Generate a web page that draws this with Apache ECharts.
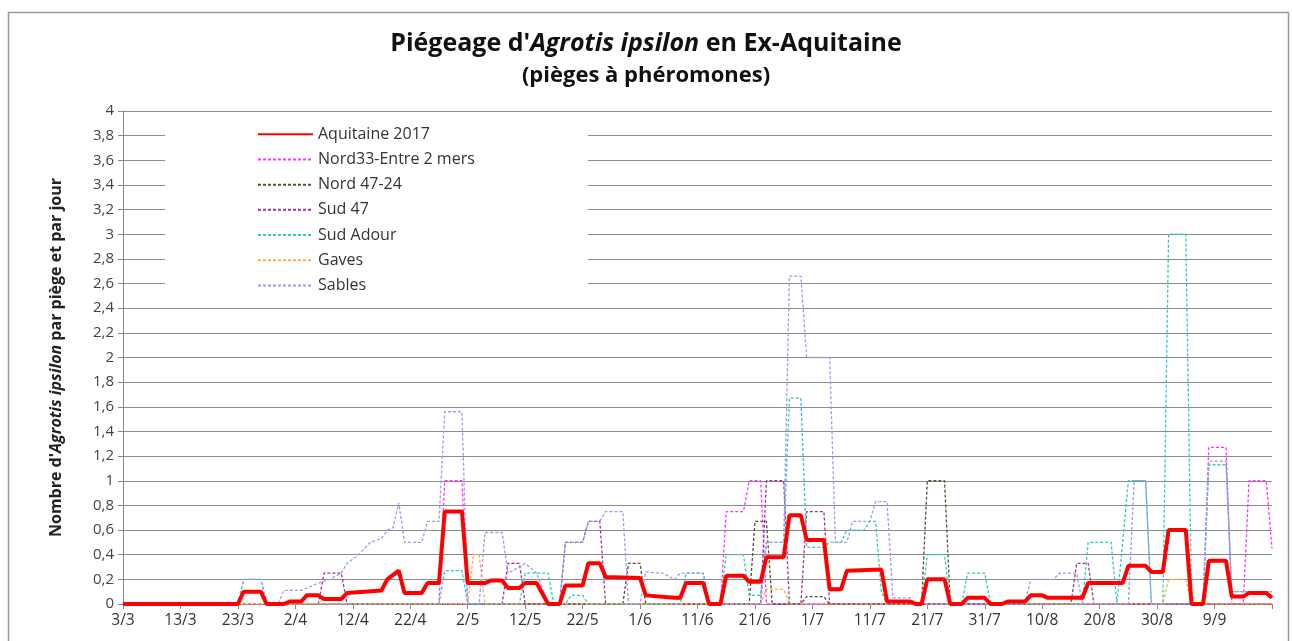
<!DOCTYPE html>
<html>
<head>
<meta charset="utf-8">
<script src="https://cdn.jsdelivr.net/npm/echarts@6/dist/echarts.min.js"></script>
<style>
html,body{margin:0;padding:0;background:#fff;}
#chart{width:1292px;height:641px;}
</style>
</head>
<body>
<div id="chart"></div>
<script>
// jours comptés depuis le 3/3 ; étiquettes tous les 10 jours
var xLabels = ['3/3','13/3','23/3','2/4','12/4','22/4','2/5','12/5','22/5','1/6','11/6','21/6','1/7','11/7','21/7','31/7','10/8','20/8','30/8','9/9'];

var aquitaine = [[0,0],[20,0],[21,0.1],[24,0.1],[25,0],[28,0],[29,0.02],[31,0.02],[32,0.07],[34,0.07],[35,0.04],[38,0.04],[39,0.09],[42,0.1],[45,0.11],[46,0.2],[48,0.27],[49,0.09],[52,0.09],[53,0.17],[55,0.17],[56,0.75],[59,0.75],[60,0.17],[63,0.17],[64,0.19],[66,0.19],[67,0.13],[69,0.13],[70,0.17],[72,0.17],[74,0],[76,0],[77,0.15],[80,0.15],[81,0.33],[83,0.33],[84,0.22],[90,0.21],[91,0.07],[96,0.05],[97,0.05],[98,0.17],[101,0.17],[102,0],[104,0],[105,0.23],[108,0.23],[109,0.18],[111,0.18],[112,0.38],[115,0.38],[116,0.72],[118,0.72],[119,0.52],[122,0.52],[123,0.12],[125,0.12],[126,0.27],[132,0.28],[133,0.02],[137,0.02],[138,0],[139,0],[140,0.2],[143,0.2],[144,0],[146,0],[147,0.05],[150,0.05],[151,0],[153,0],[154,0.02],[157,0.02],[158,0.07],[160,0.07],[161,0.05],[167,0.05],[168,0.17],[174,0.17],[175,0.31],[178,0.31],[179,0.26],[181,0.26],[182,0.6],[185,0.6],[186,0],[188,0],[189,0.35],[192,0.35],[193,0.06],[195,0.06],[196,0.09],[199,0.09],[200,0.05]];
var nord33 = [[0,0],[20,0],[21,0.1],[24,0.1],[25,0],[55,0],[56,1],[59,1],[60,0],[104,0],[105,0.75],[108,0.75],[109,1],[111,1],[112,0],[188,0],[189,1.27],[192,1.27],[193,0],[195,0],[196,1],[199,1],[200,0.45]];
var nord4724 = [[0,0],[87,0],[88,0.33],[90,0.33],[91,0],[109,0],[110,0.67],[112,0.67],[113,0],[118,0],[119,0.06],[122,0.06],[123,0],[139,0],[140,1],[143,1],[144,0],[200,0]];
var sud47 = [[0,0],[34,0],[35,0.25],[38,0.25],[39,0],[66,0],[67,0.33],[69,0.33],[70,0],[76,0],[77,0.5],[80,0.5],[81,0.67],[83,0.67],[84,0],[111,0],[112,1],[115,1],[116,0],[118,0],[119,0.75],[122,0.75],[123,0],[165,0],[166,0.33],[168,0.33],[169,0],[200,0]];
var sudAdour = [[0,0],[20,0],[21,0.2],[24,0.2],[25,0],[55,0],[56,0.27],[59,0.27],[60,0],[69,0],[70,0.25],[74,0.25],[75,0],[77,0],[78,0.07],[80,0.07],[81,0],[97,0],[98,0.25],[101,0.25],[102,0],[104,0],[105,0.4],[108,0.4],[109,0.07],[111,0.07],[112,0.5],[115,0.5],[116,1.67],[118,1.67],[119,0.46],[122,0.46],[123,0.5],[125,0.5],[126,0.6],[129,0.6],[130,0.67],[131,0.67],[132,0.1],[133,0],[139,0],[140,0.4],[143,0.4],[144,0],[146,0],[147,0.25],[150,0.25],[151,0],[167,0],[168,0.5],[172,0.5],[173,0],[174,0.5],[175,1],[178,1],[179,0],[181,0],[182,3],[185,3],[186,0],[188,0],[189,1.13],[192,1.13],[193,0.1],[200,0.1]];
var gaves = [[0,0],[60,0],[61,0.4],[62,0.4],[63,0],[111,0],[112,0.12],[115,0.12],[116,0],[181,0],[182,0.2],[185,0.2],[186,0],[200,0]];
var sables = [[0,0],[20,0],[21,0.2],[24,0.2],[25,0],[27,0],[28,0.11],[31,0.11],[32,0.13],[33,0.15],[34,0.17],[36,0.2],[38,0.25],[39,0.33],[41,0.4],[43,0.5],[45,0.53],[46,0.6],[47,0.62],[48,0.82],[49,0.5],[52,0.5],[53,0.67],[55,0.67],[56,1.56],[59,1.56],[60,0],[62,0],[63,0.58],[66,0.58],[67,0.25],[69,0.3],[70,0.33],[72,0.25],[74,0],[76,0],[77,0.5],[80,0.5],[81,0.67],[83,0.67],[84,0.75],[87,0.75],[88,0],[90,0],[91,0.26],[94,0.25],[96,0.2],[97,0.25],[101,0.25],[102,0],[111,0],[112,0.5],[115,0.5],[116,2.66],[118,2.66],[119,2],[123,2],[124,0.5],[126,0.5],[127,0.67],[130,0.67],[131,0.83],[133,0.83],[134,0.05],[137,0.05],[138,0],[157,0],[158,0.2],[162,0.2],[163,0.25],[166,0.25],[167,0],[175,0],[176,1],[178,1],[179,0],[188,0],[189,1.16],[192,1.16],[193,0.1],[200,0.1]];

var chart = echarts.init(document.getElementById('chart'));

function dashed(name, data, color) {
	return {
		name: name, type: 'line', data: data, symbol: 'none',
		lineStyle: {color: color, width: 1.3, type: [3, 2]},
		itemStyle: {color: color}
	};
}

var option = {
	animation: false,
	backgroundColor: '#fff',
	textStyle: {fontFamily: 'Open Sans, Noto Sans, sans-serif'},
	graphic: [{
		type: 'rect', left: 6, top: 10,
		shape: {width: 1280, height: 640},
		style: {fill: 'none', stroke: '#9a9a9a', lineWidth: 1.5}
	}],
	title: {
		text: "Piégeage d'{i|Agrotis ipsilon} en Ex-Aquitaine",
		subtext: '(pièges à phéromones)',
		left: 'center', top: 26, itemGap: 9,
		textStyle: {
			fontSize: 25, fontWeight: 'bold', color: '#111',
			rich: {i: {fontSize: 25, fontWeight: 'bold', fontStyle: 'italic', color: '#111'}}
		},
		subtextStyle: {fontSize: 22, fontWeight: 'bold', color: '#111'}
	},
	legend: {
		orient: 'vertical', left: 165, top: 120,
		itemWidth: 55, itemHeight: 14, itemGap: 8.7,
		padding: [6, 113, 6, 92],
		backgroundColor: '#fff',
		itemStyle: {opacity: 0},
		textStyle: {fontSize: 16, lineHeight: 16.5, color: '#333'},
		data: ['Aquitaine 2017', 'Nord33-Entre 2 mers', 'Nord 47-24', 'Sud 47', 'Sud Adour', 'Gaves', 'Sables']
	},
	grid: {left: 123, right: 20, top: 111, bottom: 37},
	xAxis: {
		type: 'value', min: 0, max: 200, interval: 10,
		axisLine: {lineStyle: {color: '#888'}},
		axisTick: {show: true, length: 5, lineStyle: {color: '#888'}},
		splitLine: {show: false},
		axisLabel: {
			fontSize: 15.5, color: '#333', margin: 9,
			formatter: function (v) { return xLabels[Math.round(v / 10)] || ''; }
		}
	},
	yAxis: {
		type: 'value', min: 0, max: 4, interval: 0.2,
		name: "Nombre d'{i|Agrotis ipsilon} par piège et par jour",
		nameLocation: 'middle', nameGap: 59,
		nameTextStyle: {
			fontSize: 16, fontWeight: 'bold', color: '#222',
			rich: {i: {fontSize: 16, fontWeight: 'bold', fontStyle: 'italic', color: '#222'}}
		},
		axisLine: {show: true, lineStyle: {color: '#888'}},
		axisTick: {show: true, length: 5, lineStyle: {color: '#888'}},
		splitLine: {lineStyle: {color: '#8c8c8c', width: 1.2}},
		axisLabel: {
			fontSize: 15, color: '#444', margin: 9,
			formatter: function (v) { return String(Math.round(v * 10) / 10).replace('.', ','); }
		}
	},
	series: [
		{
			name: 'Aquitaine 2017', type: 'line', data: aquitaine, symbol: 'none', z: 5,
			lineStyle: {color: '#ff0000', width: 4},
			itemStyle: {color: '#ff0000'}
		},
		dashed('Nord33-Entre 2 mers', nord33, '#ff33ff'),
		dashed('Nord 47-24', nord4724, '#5a4f2e'),
		dashed('Sud 47', sud47, '#a0309a'),
		dashed('Sud Adour', sudAdour, '#33c6c6'),
		dashed('Gaves', gaves, '#ffad40'),
		dashed('Sables', sables, '#9a9af0')
	]
};
chart.setOption(option);
</script>
</body>
</html>
